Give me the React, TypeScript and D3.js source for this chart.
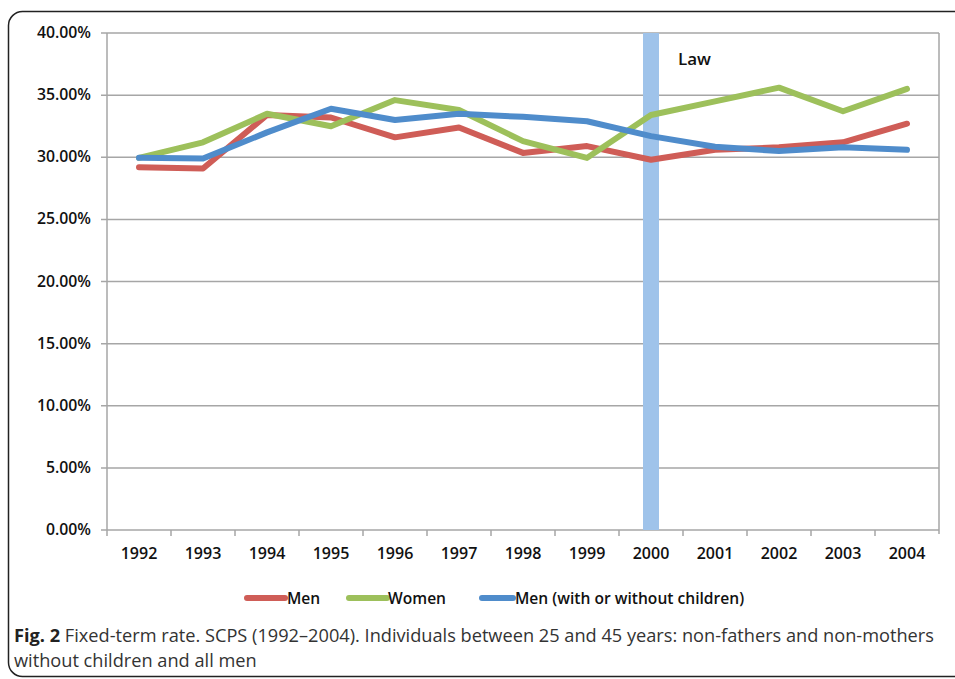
import React from "react";
import * as d3 from "d3";

const years = ["1992","1993","1994","1995","1996","1997","1998","1999","2000","2001","2002","2003","2004"];
const men = [29.2, 29.1, 33.4, 33.2, 31.6, 32.4, 30.35, 30.9, 29.8, 30.6, 30.8, 31.2, 32.7];
const women = [29.95, 31.2, 33.5, 32.5, 34.6, 33.8, 31.3, 29.95, 33.4, 34.5, 35.6, 33.7, 35.5];
const menAll = [29.95, 29.9, 32.0, 33.9, 33.0, 33.5, 33.25, 32.9, 31.7, 30.85, 30.5, 30.8, 30.6];
const yTicks = [0, 5, 10, 15, 20, 25, 30, 35, 40];
const lawYear = "2000";

const seriesList = [
  { name: "Men", values: men, color: "#CF5D57" },
  { name: "Women", values: women, color: "#9DC05B" },
  { name: "Men (with or without children)", values: menAll, color: "#4F8CCB" },
];

const W = 955, H = 679;
const left = 107, right = 939, top = 33, bottom = 530;

export default function App() {
  const x = d3.scaleBand().domain(years).range([left, right]).padding(0);
  const y = d3.scaleLinear().domain([0, 40]).range([bottom, top]);
  const line = d3.line<number>().x((_, i) => (x(years[i]) as number) + x.bandwidth() / 2).y((d) => y(d));
  const font = "'Open Sans', sans-serif";
  const lawX = (x(lawYear) as number) + x.bandwidth() / 2;
  const legendItems = [
    { x0: 247, x1: 285, tx: 287 },
    { x0: 349, x1: 387, tx: 388 },
    { x0: 482, x1: 513, tx: 515 },
  ];
  return (
    <svg width={W} height={H} style={{ position: "absolute", left: 0, top: 0 }} fontFamily={font}>
      <rect x={0} y={0} width={W} height={H} fill="#fff" />
      <rect x={8.5} y={11.5} width={980} height={665} rx={14} ry={14} fill="none" stroke="#222" strokeWidth={1.5} />
      {yTicks.map((t) => (
        <g key={t}>
          <line x1={left - 6} x2={right} y1={y(t)} y2={y(t)} stroke="#a6a6a6" strokeWidth={1.5} />
          <text x={91} y={y(t) + 5} textAnchor="end" fontSize={15.8} fontWeight={600} fill="#111">
            {t.toFixed(2)}%
          </text>
        </g>
      ))}
      <line x1={left} x2={left} y1={top} y2={bottom} stroke="#a6a6a6" strokeWidth={1.5} />
      <line x1={right} x2={right} y1={top} y2={bottom + 4} stroke="#a6a6a6" strokeWidth={1.5} />
      {years.map((yr) => (
        <g key={yr}>
          <line x1={x(yr) as number} x2={x(yr) as number} y1={bottom} y2={bottom + 6} stroke="#a6a6a6" strokeWidth={1.5} />
          <text x={(x(yr) as number) + x.bandwidth() / 2} y={bottom + 29} textAnchor="middle" fontSize={16} fontWeight={600} fill="#111">
            {yr}
          </text>
        </g>
      ))}
      <rect x={lawX - 8} y={top} width={16} height={bottom - top} fill="#9FC3EA" />
      <text x={678} y={65} fontSize={17} fontWeight={600} fill="#111">Law</text>
      {seriesList.map((s) => (
        <path key={s.name} d={line(s.values) as string} fill="none" stroke={s.color} strokeWidth={6} strokeLinecap="round" strokeLinejoin="round" />
      ))}
      {seriesList.map((s, i) => (
        <g key={s.name}>
          <line x1={legendItems[i].x0} x2={legendItems[i].x1} y1={598} y2={598} stroke={s.color} strokeWidth={6} strokeLinecap="round" />
          <text x={legendItems[i].tx} y={604} fontSize={15.6} fontWeight={600} fill="#111">{s.name}</text>
        </g>
      ))}
      <text x={14} y={642} fontSize={18.2} fill="#333">
        <tspan fontWeight={700} fill="#222">Fig. 2</tspan>
        <tspan> Fixed-term rate. SCPS (1992–2004). Individuals between 25 and 45 years: non-fathers and non-mothers</tspan>
      </text>
      <text x={14} y={667} fontSize={18.2} fill="#333">without children and all men</text>
    </svg>
  );
}
